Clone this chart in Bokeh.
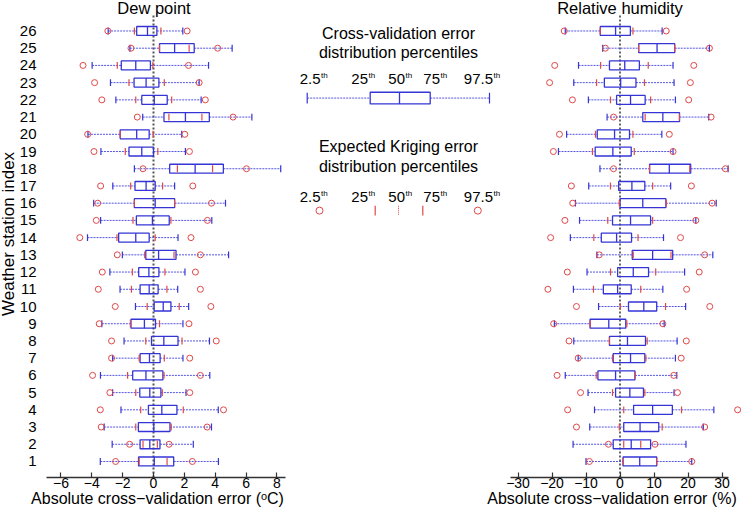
from bokeh.plotting import figure
from bokeh.layouts import row, column
from bokeh.models import Range1d, FixedTicker, ColumnDataSource
from bokeh.transform import dodge
from bokeh.core.properties import value
from bokeh.embed import file_html
from bokeh.resources import INLINE
import math

stations = list(range(1, 27))

# Dew point (degC): cross-validation error percentiles (2.5, 25, 50, 75, 97.5)
dp_cv_p025 = [-3.45, -2.68, -3.20, -2.11, -2.65, -3.44, -2.65, -1.91, -3.35, -1.17, -2.17, -2.83, -2.02,
              -4.28, -3.43, -3.88, -2.64, -1.24, -3.41, -4.25, -0.70, -2.44, -2.79, -3.98, -1.53, -2.94]
dp_cv_p25 = [-0.97, -0.87, -0.98, -0.33, -0.89, -1.35, -0.87, -0.13, -1.46, 0.04, -0.87, -0.96, -0.50,
             -2.26, -1.11, -1.24, -1.20, 1.05, -1.59, -2.16, 0.68, -0.76, -1.26, -2.09, 0.39, -1.09]
dp_cv_p50 = [0.05, -0.24, 0.02, 0.54, -0.24, -0.49, -0.26, 0.67, -0.59, 0.63, -0.28, -0.30, 0.33,
             -1.15, -0.07, 0.11, -0.48, 2.70, -0.76, -1.09, 2.07, 0.05, -0.48, -1.15, 1.37, -0.39]
dp_cv_p75 = [1.31, 0.42, 1.07, 1.52, 0.48, 0.61, 0.43, 1.59, 0.13, 1.13, 0.30, 0.35, 1.46,
             -0.28, 1.02, 1.37, 0.11, 4.53, 0.00, -0.28, 3.62, 0.89, 0.35, -0.20, 2.64, 0.22]
dp_cv_p975 = [4.21, 2.58, 3.76, 4.20, 2.11, 3.65, 1.91, 3.63, 1.91, 2.28, 1.57, 2.04, 4.87,
              1.59, 3.78, 4.67, 1.37, 8.25, 2.07, 1.83, 6.38, 3.09, 2.96, 3.57, 5.10, 1.90]
# Dew point: expected Kriging error percentiles (2.5, 25, 75, 97.5)
dp_kr_p025 = [-2.46, -1.55, -3.39, -3.45, -2.83, -3.95, -2.72, -2.72, -3.52, -2.48, -3.58, -3.32, -2.35,
              -4.78, -3.71, -3.62, -3.43, -0.68, -3.86, -4.27, -1.05, -3.35, -3.82, -4.57, -1.46, -2.96]
dp_kr_p25 = [-0.93, -0.68, -1.15, -0.83, -1.15, -1.68, -0.93, -0.50, -1.50, -0.41, -1.43, -1.37, -0.57,
             -2.37, -1.33, -1.24, -1.48, 1.55, -1.83, -2.16, 1.00, -1.15, -1.59, -2.35, 0.39, -1.24]
dp_kr_p75 = [0.88, 0.25, 1.15, 1.93, 0.57, 0.68, 0.70, 1.85, 0.39, 1.67, 0.87, 0.74, 1.33,
             0.11, 1.13, 1.37, 0.59, 3.83, 0.28, -0.02, 3.14, 1.18, 0.70, -0.04, 2.31, 0.48]
dp_kr_p975 = [2.52, 1.01, 3.48, 4.54, 2.35, 3.04, 2.35, 4.07, 2.30, 3.72, 3.04, 2.72, 3.04,
              2.43, 3.50, 3.76, 2.55, 6.03, 2.33, 2.03, 5.16, 3.36, 2.96, 2.27, 4.16, 2.18]

# Relative humidity (%): cross-validation error percentiles
rh_cv_p025 = [-10.0, -13.8, -8.9, -7.5, -9.4, -16.1, -12.3, -13.6, -19.3, -6.3, -13.7, -9.7, -6.8,
              -14.6, -11.9, -13.1, -9.2, -5.9, -18.1, -15.7, -3.8, -9.3, -13.6, -12.2, -5.1, -16.1]
rh_cv_p25 = [0.9, -2.0, 1.1, 4.0, -1.3, -6.5, -2.0, -3.1, -8.8, 2.5, -4.9, -0.7, 3.6,
             -5.5, -2.2, 0.0, -0.4, 8.7, -7.3, -6.7, 6.7, -1.0, -4.6, -3.1, 5.5, -5.8]
rh_cv_p50 = [5.8, 3.3, 5.9, 9.6, 2.9, -1.3, 3.1, 2.2, -3.3, 7.0, -0.7, 3.9, 9.6,
             -1.0, 3.1, 6.7, 3.5, 14.5, -2.1, -1.6, 12.6, 3.1, 0.2, 1.4, 10.9, -1.3]
rh_cv_p75 = [10.8, 9.0, 11.4, 15.4, 6.9, 4.4, 7.3, 7.5, 1.7, 10.8, 3.3, 8.4, 15.5,
             3.4, 9.0, 13.5, 7.3, 20.8, 3.3, 2.8, 17.5, 7.4, 4.7, 5.7, 16.1, 3.05]
rh_cv_p975 = [21.1, 19.4, 24.5, 27.6, 15.9, 16.7, 16.3, 16.8, 13.0, 19.3, 12.6, 19.0, 27.3,
              12.8, 22.3, 28.3, 14.9, 31.8, 15.6, 12.3, 26.1, 16.3, 15.9, 15.6, 26.3, 12.4]
# Relative humidity: expected Kriging error percentiles
rh_kr_p025 = [-9.0, -3.4, -12.8, -15.4, -11.6, -18.5, -12.3, -15.0, -19.5, -12.8, -21.2, -15.5, -6.1,
              -20.4, -16.2, -13.9, -14.3, -1.9, -19.6, -17.8, -1.9, -14.0, -20.7, -19.2, -4.3, -16.4]
rh_kr_p25 = [0.9, 1.1, -0.2, 1.1, -2.2, -7.0, -2.2, -3.1, -8.8, 0.1, -7.8, -2.8, 3.9,
             -7.7, -3.6, -0.2, -2.8, 8.7, -8.1, -7.2, 7.4, -2.8, -6.9, -5.7, 5.5, -5.8]
rh_kr_p75 = [10.8, 6.1, 12.4, 18.1, 7.3, 4.4, 7.6, 8.0, 2.0, 13.4, 6.1, 10.5, 15.0,
             5.3, 9.6, 13.6, 9.6, 20.5, 4.2, 3.8, 17.5, 9.0, 7.2, 8.3, 16.1, 3.8]
rh_kr_p975 = [21.1, 10.3, 24.9, 34.6, 16.9, 15.8, 18.0, 19.5, 12.6, 26.4, 19.6, 23.3, 24.9,
              17.8, 22.3, 27.1, 21.0, 31.0, 15.6, 14.5, 26.8, 20.2, 20.7, 21.7, 26.3, 13.6]

dp_ticks = [-6, -4, -2, 0, 2, 4, 6, 8]
rh_ticks = [-30, -20, -10, 0, 10, 20, 30]
pct_labels = ["2.5", "25", "50", "75", "97.5"]
titles = ["Dew point", "Relative humidity"]
xlabels = ["Absolute cross\u2212validation error (\u1d52C)", "Absolute cross\u2212validation error (%)"]
ylabel = "Weather station index"
legend_titles = ["Cross-validation error", "distribution percentiles",
                 "Expected Kriging error", "distribution percentiles"]

FONT = "Liberation Sans"
BLUE = "#3535d6"
BLUE_W = "#5555e2"
RED = "#e04848"
AXC = "#333333"
CAP = 0.2
BOXH = 0.52

# ---- page layout (pixels inside the 8px page margin) ----
FRAME_TOP = 8
FRAME_BOT = 485                  # axis line
FRAME_H = FRAME_BOT - FRAME_TOP
ROW_PX = 17.22                   # pixels per station row
ZERO_ROW_PAGE = 486.2            # page y of station coordinate 0
STRIP_H = 18                     # strip with the x-axis titles


def page_y(py):
    return (ZERO_ROW_PAGE - py) / ROW_PX


Y_RANGE = (page_y(FRAME_BOT), page_y(FRAME_TOP))


def minus(v):
    return str(v).replace("-", "\u2212")


def bare(fig):
    fig.outline_line_color = None
    fig.xgrid.visible = False
    fig.ygrid.visible = False
    return fig


def make_panel(frame_w, mbl, mbr, xr, ticks, bounds, title, title_x, cv, kr, zero_style, show_y):
    p = bare(figure(frame_width=frame_w, frame_height=FRAME_H, x_range=Range1d(*xr), y_range=Range1d(*Y_RANGE),
                    output_backend="svg", toolbar_location=None, title=None,
                    min_border_left=mbl, min_border_right=mbr, min_border_top=0, min_border_bottom=0,
                    y_axis_location="left" if show_y else None))

    ax = p.xaxis[0]
    ax.ticker = FixedTicker(ticks=ticks)
    ax.bounds = bounds
    ax.major_label_overrides = {t: minus(t) for t in ticks}
    ax.major_label_text_font = FONT
    ax.major_label_text_font_size = "14px"
    ax.major_label_text_color = "black"
    ax.major_label_standoff = 0
    ax.major_tick_in = 5
    ax.major_tick_out = 0
    ax.minor_tick_line_color = None
    ax.axis_line_color = AXC
    ax.axis_line_width = 1.5
    ax.major_tick_line_color = AXC
    ax.major_tick_line_width = 1.2

    if show_y:
        ya = p.yaxis[0]
        ya.ticker = FixedTicker(ticks=stations)
        ya.axis_line_color = None
        ya.major_tick_line_color = None
        ya.minor_tick_line_color = None
        ya.major_label_text_font = FONT
        ya.major_label_text_font_size = "15px"
        ya.major_label_text_color = "black"
        ya.major_label_standoff = 4

    src = ColumnDataSource(dict(y=stations, c025=cv[0], c25=cv[1], c50=cv[2], c75=cv[3], c975=cv[4],
                                k025=kr[0], k25=kr[1], k75=kr[2], k975=kr[3]))

    # zero reference (expected Kriging median), up to the original axes top
    p.segment(x0=[0], y0=[Y_RANGE[0]], x1=[0], y1=[page_y(21)],
              line_color=zero_style[0], line_width=zero_style[1], line_dash="2 2")

    # whiskers
    p.segment(x0="c025", y0="y", x1="c25", y1="y", source=src, line_color=BLUE_W, line_width=1, line_dash="2 1")
    p.segment(x0="c75", y0="y", x1="c975", y1="y", source=src, line_color=BLUE_W, line_width=1, line_dash="2 1")
    for f in ("c025", "c975"):
        p.segment(x0=f, y0=dodge("y", -CAP), x1=f, y1=dodge("y", CAP), source=src, line_color=BLUE, line_width=1.2)
    # box + median
    p.hbar(y="y", left="c25", right="c75", height=BOXH, source=src, fill_color=None, line_color=BLUE, line_width=1.3)
    p.segment(x0="c50", y0=dodge("y", -BOXH / 2), x1="c50", y1=dodge("y", BOXH / 2), source=src,
              line_color=BLUE, line_width=1.3)
    # Kriging percentiles
    for f in ("k25", "k75"):
        p.segment(x0=f, y0=dodge("y", -CAP), x1=f, y1=dodge("y", CAP), source=src, line_color=RED, line_width=1.2)
    for f in ("k025", "k975"):
        p.scatter(x=f, y="y", source=src, marker="circle", size=6, fill_color=None, line_color=RED, line_width=1)

    # panel title, inside the top of the frame
    p.text(x=[title_x], y=[page_y(15.5)], text=[title], text_font=value(FONT),
           text_font_size=value("16.5px"), text_align="center", text_baseline="middle", text_color="black")
    return p


# y-axis title figure: page x 8..24
ylab = bare(figure(width=16, height=FRAME_H, x_range=Range1d(8, 24), y_range=Range1d(FRAME_BOT, FRAME_TOP),
                   output_backend="svg", toolbar_location=None, title=None,
                   x_axis_location=None, y_axis_location=None,
                   min_border_left=0, min_border_right=0, min_border_top=0, min_border_bottom=0))
ylab.text(x=[15.5], y=[248.0], text=[ylabel], angle=math.pi / 2, text_font=value(FONT),
          text_font_size=value("17px"), text_align="center", text_baseline="middle", text_color="black")

# left panel: page x 24..298, frame 47..286
DP_PX = 15.42
DP_ZERO = 154.0
dp_xr = ((47 - DP_ZERO) / DP_PX, (286 - DP_ZERO) / DP_PX)
left = make_panel(239, 23, 12, dp_xr, dp_ticks, dp_xr, titles[0], (154.5 - DP_ZERO) / DP_PX,
                  [dp_cv_p025, dp_cv_p25, dp_cv_p50, dp_cv_p75, dp_cv_p975],
                  [dp_kr_p025, dp_kr_p25, dp_kr_p75, dp_kr_p975], ("#555555", 2), True)

# right panel: page x 505..747, frame 511..742 (axis line ends at 728)
RH_PX = 3.4
RH_ZERO = 620.5
rh_xr = ((511 - RH_ZERO) / RH_PX, (742 - RH_ZERO) / RH_PX)
right = make_panel(231, 6, 5, rh_xr, rh_ticks, (rh_xr[0], 31.9), titles[1], 0.0,
                   [rh_cv_p025, rh_cv_p25, rh_cv_p50, rh_cv_p75, rh_cv_p975],
                   [rh_kr_p025, rh_kr_p25, rh_kr_p75, rh_kr_p975], ("black", 1.2), False)

# ---- middle legend figure: page x 298..505, page y 8..485 (y axis downwards) ----
mid = bare(figure(width=207, height=FRAME_H, x_range=Range1d(298, 505), y_range=Range1d(FRAME_BOT, FRAME_TOP),
                  output_backend="svg", toolbar_location=None, title=None,
                  x_axis_location=None, y_axis_location=None,
                  min_border_left=0, min_border_right=0, min_border_top=0, min_border_bottom=0))

LEG_CX = 399
mid.text(x=[LEG_CX] * 4, y=[41.7, 61.7, 158.3, 178.3], text=legend_titles, text_font=value(FONT),
         text_font_size=value("16px"), text_align="center", text_baseline="middle", text_color="black")
num_split = [321, 368.5, 405.5, 440.5, 493.5]
for yb in (88.7, 209.7):
    mid.text(x=num_split, y=[yb] * 5, text=pct_labels, text_font=value(FONT), text_font_size=value("15px"),
             text_align="right", text_baseline="middle", text_color="black")
    mid.text(x=[s + 0.5 for s in num_split], y=[yb - 3.5] * 5, text=["th"] * 5, text_font=value(FONT),
             text_font_size=value("8px"), text_align="left", text_baseline="middle", text_color="black")

# cross-validation legend box
by = 108.3
mid.segment(x0=[307.7, 430.7], y0=[by, by], x1=[370.7, 490], y1=[by, by],
            line_color=BLUE_W, line_width=1, line_dash="2 1")
mid.segment(x0=[307.7, 490], y0=[by - 5.5] * 2, x1=[307.7, 490], y1=[by + 5.5] * 2, line_color=BLUE, line_width=1.2)
mid.quad(left=[370.7], right=[430.7], top=[by - 6], bottom=[by + 6], fill_color=None, line_color=BLUE, line_width=1.3)
mid.segment(x0=[400], y0=[by - 6], x1=[400], y1=[by + 6], line_color=BLUE, line_width=1.3)

# Kriging legend marks
my = 224
mid.scatter(x=[320, 478.3], y=[my, my], marker="circle", size=7, fill_color=None, line_color=RED, line_width=1)
mid.segment(x0=[375.7, 423.3], y0=[my - 5] * 2, x1=[375.7, 423.3], y1=[my + 5] * 2, line_color=RED, line_width=1.2)
mid.segment(x0=[399], y0=[my - 5], x1=[399], y1=[my + 5], line_color=RED, line_width=1, line_dash="1 1")

# ---- bottom strip with the x-axis titles (page x 8..747) ----
strip = bare(figure(width=739, height=STRIP_H, x_range=Range1d(8, 747), y_range=Range1d(STRIP_H, 0),
                    output_backend="svg", toolbar_location=None, title=None,
                    x_axis_location=None, y_axis_location=None,
                    min_border_left=0, min_border_right=0, min_border_top=0, min_border_bottom=0))
strip.text(x=[165.0, 619.5], y=[8.0, 8.0], text=xlabels, text_font=value(FONT),
           text_font_size=value("16px"), text_align="center", text_baseline="middle", text_color="black")

layout = column(row(ylab, left, mid, right), strip)
open("out.html", "w").write(file_html(layout, INLINE))
